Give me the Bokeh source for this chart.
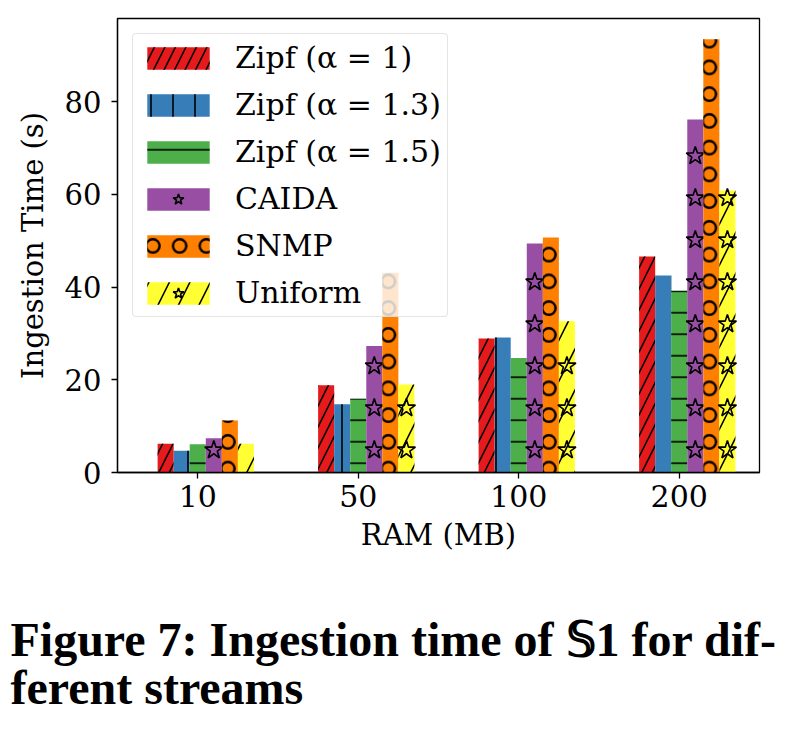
import numpy as np
from bokeh.plotting import figure
from bokeh.models import (Range1d, FixedTicker, Legend, LegendItem, Title,
                          ColumnDataSource)
from bokeh.embed import file_html
from bokeh.resources import INLINE

# ---- data ----
ram_labels = ["10", "50", "100", "200"]
series_names = ["Zipf (α = 1)", "Zipf (α = 1.3)", "Zipf (α = 1.5)", "CAIDA", "SNMP", "Uniform"]
zipf_1 = [6.2, 18.8, 28.9, 46.6]
zipf_13 = [4.7, 14.7, 29.1, 42.5]
zipf_15 = [6.1, 15.9, 24.7, 39.2]
caida = [7.4, 27.3, 49.4, 76.1]
snmp = [11.2, 43.1, 50.7, 93.4]
uniform = [6.2, 19.0, 32.6, 60.8]
y_ticks = [0, 20, 40, 60, 80]

values = [zipf_1, zipf_13, zipf_15, caida, snmp, uniform]
colors = ["#e41a1c", "#377eb8", "#4daf4a", "#984ea3", "#ff7f00", "#ffff33"]
hatches = ["/", "|", "-", " ", "o", "/"]
hscales = [21, 22, 21.5, 12, 26.75, 41]
hweights = [1.6, 1.6, 1.6, 1.0, 2.4, 1.6]
offsets = [-0.2, -0.1, 0.0, 0.1, 0.2, 0.3]
bar_w = 0.1

SERIF = "DejaVu Serif"

p = figure(frame_width=642, frame_height=454, output_backend="svg",
           toolbar_location=None,
           x_range=Range1d(-0.5, 3.5), y_range=Range1d(0, 97.9),
           min_border_left=117, min_border_right=52, min_border_top=18,
           min_border_bottom=269)
p.xgrid.visible = False
p.ygrid.visible = False
p.outline_line_color = "black"
p.outline_line_width = 1.3
p.background_fill_color = "white"

xpos = np.arange(len(ram_labels))
items = []
for k, (vals, col, hat, hs, hw, off, name) in enumerate(
        zip(values, colors, hatches, hscales, hweights, offsets, series_names)):
    src = ColumnDataSource(dict(x=xpos + off, top=vals))
    r = p.vbar(x="x", top="top", width=bar_w, source=src, fill_color=col,
               line_color=None, hatch_pattern=hat, hatch_color="black",
               hatch_weight=hw, hatch_scale=hs)
    rends = [r]
    if name in ("CAIDA", "Uniform"):
        sx, sy = [], []
        step = 9.06
        for xi, h in zip(xpos + off, vals):
            for yy in np.arange(step / 2 + 0.3, h - 1.5, step):
                sx.append(xi)
                sy.append(yy)
        s = p.scatter(x=sx, y=sy, marker="star", size=19, fill_alpha=0,
                      line_color="black", line_width=1.6)
        rends.append(s)
    items.append(LegendItem(label=name, renderers=rends))

legend = Legend(items=items, location="top_left", margin=15, padding=6,
                glyph_width=78, glyph_height=28, label_standoff=18,
                spacing=12, label_height=22,
                label_text_font=SERIF, label_text_font_size="30px",
                label_text_color="black",
                label_text_baseline="middle",
                border_line_color="#cccccc", border_line_width=1.2,
                border_radius=4,
                background_fill_color="white", background_fill_alpha=0.8)
p.add_layout(legend, "center")

p.xaxis.ticker = FixedTicker(ticks=list(xpos))
p.xaxis.major_label_overrides = {int(i): lab for i, lab in zip(xpos, ram_labels)}
p.yaxis.ticker = FixedTicker(ticks=y_ticks)
for ax in (p.xaxis, p.yaxis):
    ax.axis_line_color = "black"
    ax.axis_line_width = 1.3
    ax.major_tick_line_color = "black"
    ax.major_tick_line_width = 1.3
    ax.major_tick_out = 6
    ax.major_tick_in = 0
    ax.minor_tick_line_color = None
    ax.major_label_text_font = SERIF
    ax.major_label_text_color = "black"
    ax.axis_label_text_font = SERIF
    ax.axis_label_text_font_style = "normal"
    ax.axis_label_text_color = "black"
    ax.axis_label_text_font_size = "29px"
p.xaxis.major_label_text_font_size = "30px"
p.yaxis.major_label_text_font_size = "29px"
p.xaxis.axis_label = "RAM (MB)"
p.yaxis.axis_label = "Ingestion Time (s)"
p.xaxis.major_label_standoff = 6
p.yaxis.major_label_standoff = 10
p.xaxis.axis_label_standoff = 8
p.yaxis.axis_label_standoff = 12

cap = Title(text="Figure 7: Ingestion time of 𝕊1 for dif-\nferent streams",
            align="left", text_font="Liberation Serif", text_font_style="bold",
            text_font_size="48px", text_color="black", text_line_height=0.92,
            offset=-107, standoff=112)
p.add_layout(cap, "below")

open("out.html", "w").write(file_html(p, INLINE))
